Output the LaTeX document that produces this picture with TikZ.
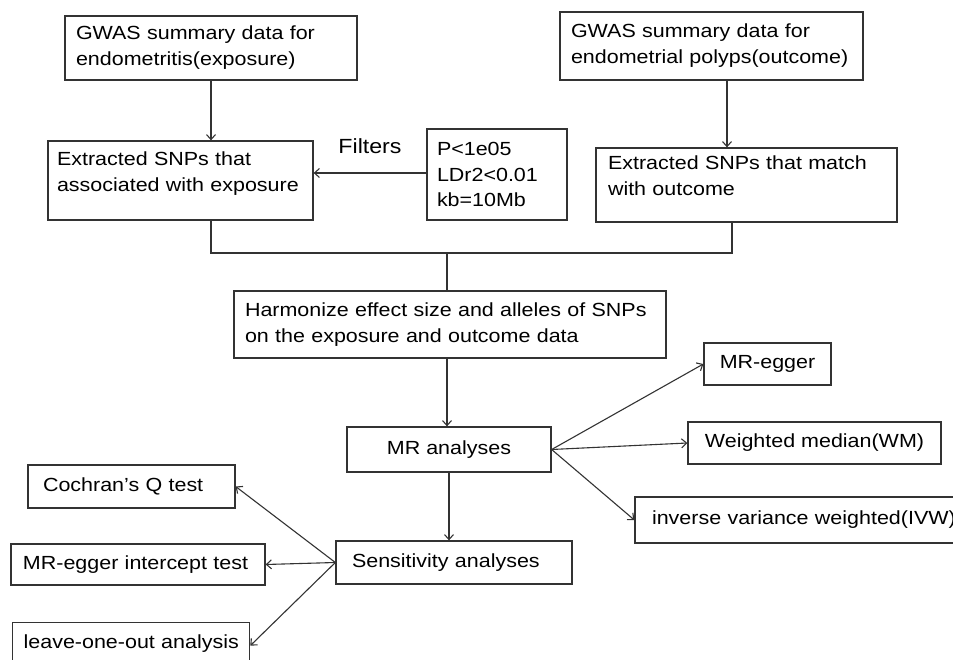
\documentclass[tikz,border=0pt]{standalone}
\usepackage{fontspec}
\setmainfont{Liberation Sans}[FakeStretch=1.13]
\usetikzlibrary{arrows.meta,calc}
\hyphenpenalty=10000
\tikzset{
  box/.style={draw=black!80, line width=1.3pt, rectangle, inner ysep=0pt, align=left,
    font=\fontsize{19}{26}\selectfont},
  cbox/.style={draw=black!80, line width=1.3pt, rectangle, inner sep=0pt, align=center,
    font=\fontsize{19}{26}\selectfont},
  ln/.style={draw=black!80, line width=1.1pt},
  arr/.style={ln, -{Straight Barb[length=5pt,width=9pt]}},
}
\begin{document}
\begin{tikzpicture}[x=1pt,y=-1pt]
\fill[white] (0,0) rectangle (953,660);
\useasboundingbox (0,0) rectangle (953,660);

% top row
\node[box, minimum width=292, minimum height=64, inner xsep=11, text width=270] (gex) at (211,48)
  {GWAS summary data for\\endometritis(exposure)};
\node[box, minimum width=303, minimum height=68, inner xsep=11, text width=281] (gout) at (711.5,46)
  {GWAS summary data for\\endometrial polyps(outcome)};

% second row
\node[box, minimum width=265, minimum height=79, inner xsep=9, text width=247] (sexp) at (180.5,180.5)
  {Extracted SNPs that\\associated with exposure\\[-8pt]\mbox{}};
\node[box, minimum width=140, minimum height=91, inner xsep=10, text width=120,
  font=\fontsize{19}{25.5}\selectfont] (filt) at (497,174.5)
  {P<1e05\\LDr2<0.01\\kb=10Mb};
\node[font=\fontsize{20.5}{24}\selectfont] (flab) at (370,146) {Filters};
\node[box, minimum width=301, minimum height=74, inner xsep=12, text width=277] (sout) at (746.5,185)
  {Extracted SNPs that match\\with outcome\\[-8pt]\mbox{}};

% harmonize
\node[box, minimum width=432, minimum height=67, inner xsep=11, text width=410] (harm) at (450,324.5)
  {\mbox{Harmonize effect size and alleles of SNPs}\\on the exposure and outcome data};

% MR
\node[cbox, minimum width=204, minimum height=45] (mr) at (449,449.5) {MR analyses};
\node[cbox, minimum width=127, minimum height=42] (egg) at (767.5,364) {MR-egger};
\node[cbox, minimum width=253, minimum height=42] (wm) at (814.5,443) {Weighted median(WM)};
\node[box, minimum width=350, minimum height=46, inner xsep=17, text width=316] (ivw) at (810,520)
  {\mbox{inverse variance weighted(IVW)}};

% sensitivity
\node[box, minimum width=236, minimum height=43, inner xsep=16, text width=204] (sens) at (454,562.5)
  {Sensitivity analyses};
\node[box, minimum width=207, minimum height=43, inner xsep=15, text width=177] (coch) at (131.5,486.5)
  {Cochran's Q test};
\node[box, minimum width=254, minimum height=41, inner xsep=12, text width=230] (mrint) at (138,564.5)
  {\mbox{MR-egger intercept test}};
\node[box, anchor=north west, minimum width=237, inner xsep=11, text width=215,
  inner ysep=12pt, text height=14pt, text depth=30pt] (loo) at (12,622)
  {\mbox{leave-one-out analysis}};

% connectors
\draw[arr] (gex.south) -- (gex.south |- sexp.north);
\draw[arr] ([xshift=15.5pt]gout.south) -- ([xshift=15.5pt]gout.south |- sout.north);
\draw[arr] ([yshift=1.5pt]filt.west) -- ([yshift=1.5pt]filt.west -| sexp.east);

\coordinate (j) at (447,253);
\draw[ln] ([xshift=30.5pt]sexp.south) |- (j) -| ([xshift=-14.5pt]sout.south);
\draw[ln] (j) -- (j |- harm.north);
\draw[arr] (j |- harm.south) -- (j |- mr.north);

\draw[arr] (mr.east) -- (egg.west);
\draw[arr] (mr.east) -- (wm.west);
\draw[arr] (mr.east) -- (ivw.west);

\draw[arr] (mr.south) -- (mr.south |- sens.north);

\draw[arr] (sens.west) -- (coch.east);
\draw[arr] (sens.west) -- (mrint.east);
\draw[arr] (sens.west) -- ([yshift=11pt]loo.east);
\end{tikzpicture}
\end{document}
